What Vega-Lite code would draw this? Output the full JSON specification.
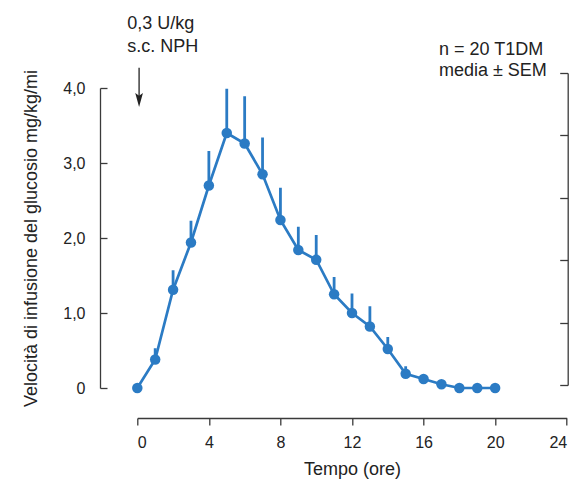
{
  "$schema": "https://vega.github.io/schema/vega-lite/v6.json",
  "width": 429.4,
  "height": 316,
  "autosize": "none",
  "padding": {"left": 137.3, "top": 72, "right": 12.3, "bottom": 96},
  "background": "white",
  "config": {
    "font": "Liberation Sans",
    "view": {"stroke": null},
    "axis": {"grid": false, "domainColor": "#3a3a3a", "tickColor": "#3a3a3a", "labelColor": "#222", "titleColor": "#222", "domainWidth": 1.3, "tickWidth": 1.3, "titleFontWeight": "normal", "labelFont": "Liberation Sans", "titleFont": "Liberation Sans"}
  },
  "datasets": {
    "gir": [
      {"t": 0, "v": 0, "hi": 0},
      {"t": 1, "v": 0.38, "hi": 0.53},
      {"t": 2, "v": 1.31, "hi": 1.57},
      {"t": 3, "v": 1.94, "hi": 2.23},
      {"t": 4, "v": 2.70, "hi": 3.16},
      {"t": 5, "v": 3.40, "hi": 3.99},
      {"t": 6, "v": 3.26, "hi": 3.89},
      {"t": 7, "v": 2.85, "hi": 3.34},
      {"t": 8, "v": 2.24, "hi": 2.67},
      {"t": 9, "v": 1.84, "hi": 2.15},
      {"t": 10, "v": 1.71, "hi": 2.04},
      {"t": 11, "v": 1.25, "hi": 1.48},
      {"t": 12, "v": 1.00, "hi": 1.26},
      {"t": 13, "v": 0.82, "hi": 1.09},
      {"t": 14, "v": 0.52, "hi": 0.68},
      {"t": 15, "v": 0.19, "hi": 0.29},
      {"t": 16, "v": 0.12, "hi": 0.18},
      {"t": 17, "v": 0.05, "hi": 0.05},
      {"t": 18, "v": 0, "hi": 0},
      {"t": 19, "v": 0, "hi": 0},
      {"t": 20, "v": 0, "hi": 0}
    ],
    "one": [{}],
    "rightaxis": [{"r": 0}, {"r": 5}]
  },
  "layer": [
    {
      "layer": [
        {
          "data": {"name": "gir"},
          "encoding": {
            "x": {
              "field": "t", "type": "quantitative",
              "scale": {"domain": [0, 24], "nice": false, "zero": false},
              "axis": {"orient": "bottom", "offset": 30, "values": [0, 4, 8, 12, 16, 20, 24], "tickSize": 7, "labelFontSize": 16, "labelPadding": 9, "title": "Tempo (ore)", "titleFontSize": 18, "titlePadding": 10}
            },
            "y": {
              "field": "v", "type": "quantitative",
              "scale": {"domain": [0, 4], "range": [316, 16], "nice": false, "zero": false},
              "axis": {"orient": "left", "offset": 37.3, "values": [0, 1, 2, 3, 4], "tickSize": -7, "labelPadding": 22, "labelFontSize": 16, "labelExpr": "datum.value == 0 ? '0' : replace(format(datum.value, '.1f'), '.', ',')", "title": "Velocità di infusione del glucosio mg/kg/mi", "titleFontSize": 18, "titlePadding": 22}
            }
          },
          "layer": [
            {"mark": {"type": "rule", "color": "#2b7bc4", "strokeWidth": 2.8}, "encoding": {"y2": {"field": "hi"}}},
            {"mark": {"type": "line", "color": "#2b7bc4", "strokeWidth": 2.7}},
            {"mark": {"type": "point", "filled": true, "opacity": 1, "color": "#2b7bc4", "size": 110}}
          ]
        },
        {
          "data": {"name": "one"},
          "mark": {"type": "text", "align": "left", "baseline": "alphabetic", "fontSize": 18, "lineHeight": 22.4, "color": "#222"},
          "encoding": {"x": {"datum": -0.56}, "y": {"datum": 4.783}, "text": {"value": ["0,3 U/kg", "s.c. NPH"]}}
        },
        {
          "data": {"name": "one"},
          "mark": {"type": "text", "align": "left", "baseline": "alphabetic", "fontSize": 18, "lineHeight": 20.5, "color": "#222"},
          "encoding": {"x": {"datum": 16.86}, "y": {"datum": 4.44}, "text": {"value": ["n = 20 T1DM", "media ± SEM"]}}
        },
        {
          "data": {"name": "one"},
          "mark": {"type": "rule", "color": "#222", "strokeWidth": 1.3},
          "encoding": {"x": {"datum": 0.1}, "y": {"datum": 4.27}, "y2": {"datum": 3.85}}
        },
        {
          "data": {"name": "one"},
          "mark": {"type": "point", "filled": true, "opacity": 1, "color": "#222", "shape": "M0,1L-0.55,-1L0,-0.6L0.55,-1Z", "size": 196},
          "encoding": {"x": {"datum": 0.1}, "y": {"datum": 3.84}}
        }
      ]
    },
    {
      "data": {"name": "rightaxis"},
      "mark": {"type": "point", "opacity": 0},
      "encoding": {
        "y": {
          "field": "r", "type": "quantitative",
          "scale": {"domain": [0, 5], "range": [313, 1], "nice": false, "zero": false},
          "axis": {"orient": "right", "offset": 1, "values": [0, 1, 2, 3, 4, 5], "tickSize": -8, "labels": false, "title": null}
        }
      }
    }
  ],
  "resolve": {"scale": {"y": "independent"}, "axis": {"y": "independent"}}
}
